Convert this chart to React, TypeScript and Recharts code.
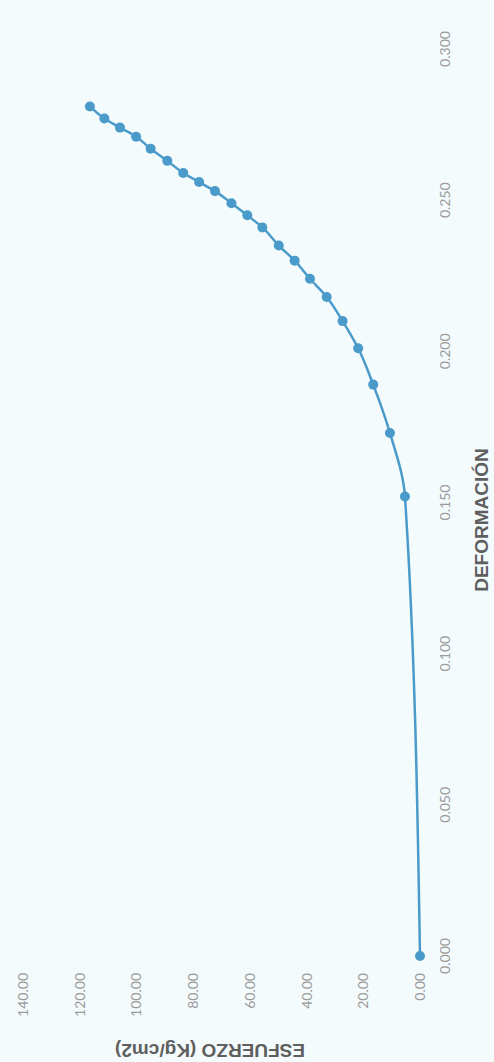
import { LineChart, Line, XAxis, YAxis } from "recharts";

// stress-strain readings (deformación unitaria vs esfuerzo kg/cm2)
const strain = [
  0, 0.152, 0.173, 0.189, 0.201, 0.21, 0.218, 0.224, 0.23, 0.235, 0.241,
  0.245, 0.249, 0.253, 0.256, 0.259, 0.263, 0.267, 0.271, 0.274, 0.277, 0.281,
];
const stress = [
  0, 5.3, 10.6, 16.5, 21.8, 27.3, 32.9, 38.8, 44.2, 49.8, 55.6, 60.9, 66.5,
  72.3, 77.9, 83.5, 89.1, 95.0, 100.1, 105.8, 111.3, 116.4,
];
const strainTicks = [0, 0.05, 0.1, 0.15, 0.2, 0.25, 0.3];
const stressTicks = [0, 20, 40, 60, 80, 100, 120, 140];

const data = strain.map((s, i) => ({ strain: s, stress: stress[i] }));

const W = 1062;
const H = 494;
const color = "#4a9bc9";
const tickStyle = { fill: "#9a9a9a", fontSize: 14, fontFamily: "Lato" };
const titleStyle = {
  fill: "#5f5f5f",
  fontFamily: "Liberation Sans",
  fontWeight: 700,
};

export default function App() {
  return (
    <div
      style={{
        position: "absolute",
        top: 0,
        left: 0,
        width: H,
        height: W,
        overflow: "hidden",
        background: "#f4fbfd",
      }}
    >
      <div
        style={{
          position: "absolute",
          left: 0,
          top: 0,
          width: W,
          height: H,
          transformOrigin: "0 0",
          transform: `translateY(${W}px) rotate(-90deg)`,
        }}
      >
        <LineChart
          width={W}
          height={H}
          data={data}
          margin={{ top: 23, right: 49, bottom: 0, left: 0 }}
        >
          <XAxis
            type="number"
            dataKey="strain"
            domain={[0, 0.3]}
            ticks={strainTicks}
            tickFormatter={(v) => v.toFixed(3)}
            axisLine={false}
            tickLine={false}
            tickMargin={14}
            height={74}
            tick={tickStyle}
          />
          <YAxis
            type="number"
            dataKey="stress"
            domain={[0, 140]}
            ticks={stressTicks}
            tickFormatter={(v) => v.toFixed(2)}
            axisLine={false}
            tickLine={false}
            tickMargin={11}
            width={106}
            tick={tickStyle}
          />
          <Line
            type="monotone"
            dataKey="stress"
            stroke={color}
            strokeWidth={2.5}
            dot={{ r: 5, fill: color, stroke: "none" }}
            activeDot={false}
            isAnimationActive={false}
          />
          <text x={542} y={488} textAnchor="middle" fontSize={19} style={titleStyle}>
            DEFORMACIÓN
          </text>
          <text
            x={12}
            y={210}
            textAnchor="middle"
            dominantBaseline="central"
            fontSize={19}
            transform="rotate(-90 12 210)"
            style={titleStyle}
          >
            ESFUERZO (Kg/cm2)
          </text>
        </LineChart>
      </div>
    </div>
  );
}
